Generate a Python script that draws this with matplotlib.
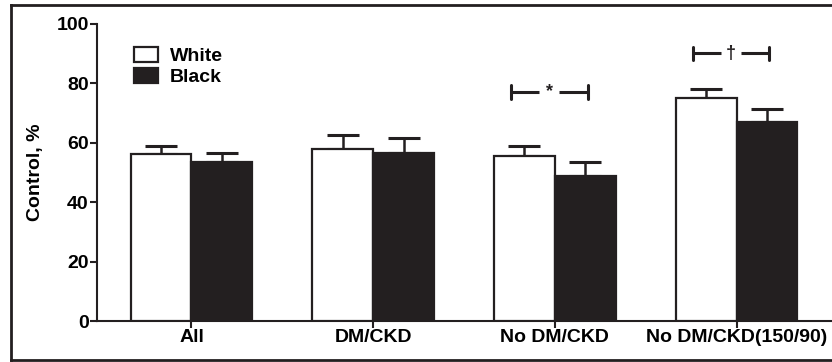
import matplotlib
matplotlib.use("Agg")
import matplotlib.pyplot as plt
from matplotlib.patches import Patch
from matplotlib.lines import Line2D
import numpy as np

plt.rcParams['font.family'] = ['Liberation Sans', 'DejaVu Sans']
plt.rcParams['font.weight'] = 'bold'

categories = ["All", "DM/CKD", "No DM/CKD", "No DM/CKD(150/90)"]
white_vals = [56.2, 57.9, 55.6, 75.1]
white_err = [2.7, 4.8, 3.3, 2.9]
black_vals = [53.4, 56.7, 48.9, 66.9]
black_err = [3.3, 4.9, 4.5, 4.5]
series_names = ["White", "Black"]
yticks = [0, 20, 40, 60, 80, 100]
# significance markers: (category index, symbol, bracket height)
sig_marks = [(2, "*", 77.2), (3, "\u2020", 90.1)]

ink = "#231f20"
fs = 14

fig = plt.figure(figsize=(8.32, 3.62), dpi=100)
ax = fig.add_axes([97 / 832, 41 / 362, 734 / 832, 297 / 362])

x = np.arange(len(categories))
w = 0.335
lw = 1.6
ax.bar(x - w / 2, white_vals, w, color="white", edgecolor=ink, linewidth=lw, zorder=3)
ax.bar(x + w / 2, black_vals, w, color=ink, edgecolor=ink, linewidth=lw, zorder=3)

for xs, vals, errs in ((x - w / 2, white_vals, white_err), (x + w / 2, black_vals, black_err)):
    ax.errorbar(xs, vals, yerr=[np.zeros(len(errs)), errs], fmt="none", ecolor=ink,
                elinewidth=1.8, capsize=11.5, capthick=2.2, zorder=2)

for idx, sym, h in sig_marks:
    x0, x1 = idx - 0.24, idx + 0.18
    xm = (x0 + x1) / 2
    gap = 0.055
    ax.plot([x0, xm - gap], [h, h], color=ink, lw=2.2, solid_capstyle="butt", clip_on=False)
    ax.plot([xm + gap, x1], [h, h], color=ink, lw=2.2, solid_capstyle="butt", clip_on=False)
    for xe in (x0, x1):
        ax.plot([xe, xe], [h - 2.3, h + 2.3], color=ink, lw=2.2, solid_capstyle="round", clip_on=False)
    ax.text(xm, h, sym, ha="center", va="center", fontsize=13, color=ink, fontweight="bold")

ax.set_xlim(-0.52, 3.52)
ax.set_ylim(0, 100)
ax.set_yticks(yticks)
ax.set_xticks(x)
ax.set_xticklabels(categories, fontsize=fs, fontweight="bold")
ax.tick_params(axis="y", labelsize=fs, width=1.5, length=5, color=ink, pad=1)
ax.tick_params(axis="x", width=1.5, length=5, color=ink, pad=1)
for lab in ax.get_yticklabels():
    lab.set_fontweight("bold")
ax.spines["top"].set_visible(False)
ax.spines["right"].set_visible(False)
for s in ("left", "bottom"):
    ax.spines[s].set_linewidth(1.5)
    ax.spines[s].set_color(ink)
ax.set_ylabel("Control, %", fontsize=fs, fontweight="bold", labelpad=9)

handles = [Patch(facecolor="white", edgecolor=ink, linewidth=lw, label=series_names[0]),
           Patch(facecolor=ink, edgecolor=ink, linewidth=lw, label=series_names[1])]
ax.legend(handles=handles, loc="upper left", bbox_to_anchor=(0.027, 0.982), frameon=False,
          handlelength=1.24, handleheight=0.8, handletextpad=0.6,
          labelspacing=0.15, prop={"weight": "bold", "size": fs})

# outer frame
for xs_, ys_ in (([11, 11], [5, 360]), ([11, 832], [5, 5]), ([11, 832], [360, 360])):
    fig.add_artist(Line2D([v / 832 for v in xs_], [1 - v / 362 for v in ys_],
                          color=ink, lw=2, transform=fig.transFigure))

fig.savefig("out.png", dpi=100)
